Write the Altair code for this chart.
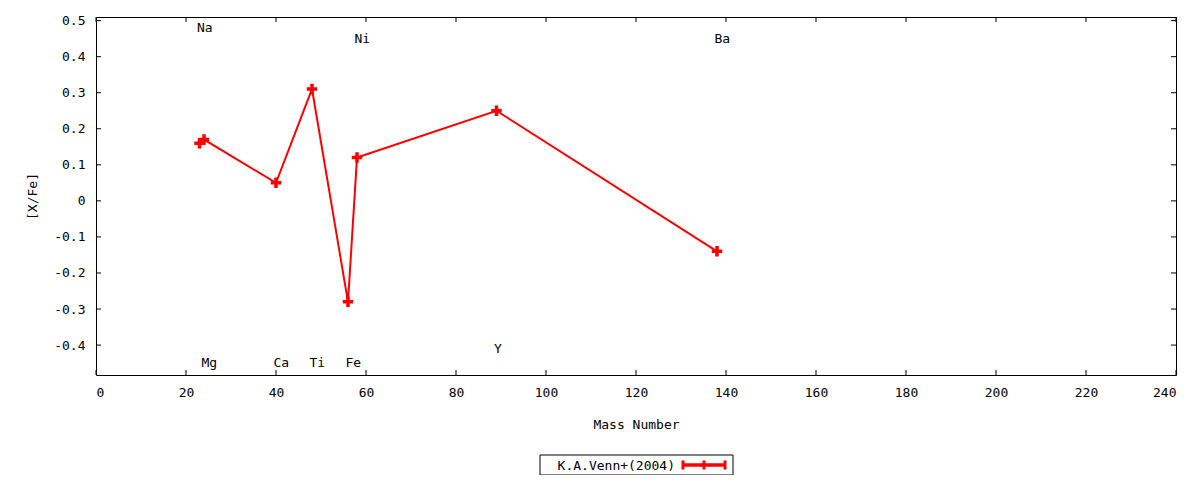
import altair as alt
import pandas as pd

# ---- data ----
elements = ["Na", "Mg", "Ca", "Ti", "Fe", "Ni", "Y", "Ba"]
mass = [23, 24, 40, 48, 56, 58, 89, 138]
xfe = [0.16, 0.17, 0.05, 0.31, -0.28, 0.12, 0.25, -0.14]
label_y = [0.48, -0.45, -0.45, -0.45, -0.45, 0.45, -0.41, 0.45]
x_ticks = [0, 20, 40, 60, 80, 100, 120, 140, 160, 180, 200, 220, 240]
y_ticks = [-0.4, -0.3, -0.2, -0.1, 0, 0.1, 0.2, 0.3, 0.4, 0.5]
legend_label = "K.A.Venn+(2004)"

W, H = 1080, 358
FONT = "DejaVu Sans Mono"
FS = 13
RED = "#ff0000"

df = pd.DataFrame({"element": elements, "mass": mass, "xfe": xfe, "label_y": label_y})
xt = pd.DataFrame({"t": x_ticks})
yt = pd.DataFrame({"t": y_ticks})
one = pd.DataFrame({"k": [0]})

xscale = alt.Scale(domain=[0, 240], nice=False, zero=False)
yscale = alt.Scale(domain=[-0.483, 0.51], nice=False, zero=False)

x_axis = alt.Axis(values=x_ticks, title="Mass Number", labelFont=FONT, labelFontSize=FS,
                  labelPadding=11, titleFont=FONT, titleFontSize=FS, titleFontWeight="normal",
                  titleY=49, titleBaseline="middle", ticks=False, domain=False, grid=False,
                  labelColor="black", titleColor="black", labelExpr="'' + datum.value")
y_axis = alt.Axis(values=y_ticks, title="[X/Fe]", labelFont=FONT, labelFontSize=FS,
                  labelPadding=11, titleFont=FONT, titleFontSize=FS, titleFontWeight="normal",
                  titleX=-64, titleY=H / 2, titleBaseline="middle", titleAlign="center",
                  titleAngle=270, ticks=False, domain=False, grid=False,
                  labelColor="black", titleColor="black", labelExpr="'' + datum.value")


def X(field):
    return alt.X(field, scale=xscale, axis=x_axis, title="Mass Number")


def Y(field):
    return alt.Y(field, scale=yscale, axis=y_axis, title="[X/Fe]")


base = alt.Chart(df)
line = base.mark_line(color=RED, strokeWidth=2).encode(
    x=X("mass:Q"), y=Y("xfe:Q"), order="mass:Q",
)
points = base.mark_point(shape="M-1,0H1M0,-1V1", size=110, filled=False, stroke=RED,
                         strokeWidth=3.5, opacity=1).encode(
    x=X("mass:Q"), y=Y("xfe:Q"),
)
labels = base.mark_text(font=FONT, fontSize=FS, align="left", baseline="middle",
                        dx=-2.5, color="black").encode(
    x=X("mass:Q"), y=Y("label_y:Q"), text="element:N",
)

tick_len = 5
tick_kw = dict(size=tick_len, thickness=1, color="black", opacity=1)
xt_bottom = alt.Chart(xt).mark_tick(orient="vertical", **tick_kw).encode(
    x=X("t:Q"), y=alt.value(H - tick_len / 2))
xt_top = alt.Chart(xt).mark_tick(orient="vertical", **tick_kw).encode(
    x=X("t:Q"), y=alt.value(tick_len / 2))
yt_left = alt.Chart(yt).mark_tick(orient="horizontal", **tick_kw).encode(
    y=Y("t:Q"), x=alt.value(tick_len / 2))
yt_right = alt.Chart(yt).mark_tick(orient="horizontal", **tick_kw).encode(
    y=Y("t:Q"), x=alt.value(W - tick_len / 2))

# ---- legend (gnuplot style: label then sample) ----
leg_box = alt.Chart(one).mark_rect(fill="white", stroke="black", strokeWidth=1).encode(
    x=alt.value(444), x2=alt.value(637), y=alt.value(438), y2=alt.value(458))
leg_text = alt.Chart(one).mark_text(font=FONT, fontSize=FS, align="right", baseline="middle",
                                    color="black").encode(
    x=alt.value(579), y=alt.value(448.5), text=alt.value(legend_label))
leg_line = alt.Chart(one).mark_rule(color=RED, strokeWidth=3.5).encode(
    x=alt.value(586), x2=alt.value(630), y=alt.value(448))
leg_caps = [
    alt.Chart(one).mark_rule(color=RED, strokeWidth=3).encode(
        x=alt.value(cx), y=alt.value(443.5), y2=alt.value(452.5))
    for cx in (587, 608, 629)
]

chart = alt.layer(
    line, points, labels, xt_bottom, xt_top, yt_left, yt_right,
    leg_box, leg_text, leg_line, *leg_caps
).properties(
    width=W, height=H,
    background="white",
    autosize=alt.AutoSizeParams(type="none"),
    padding={"left": 88, "top": 9, "right": 16, "bottom": 100},
).configure_view(
    stroke="black", strokeWidth=1
)

chart.save("out.html", embed_options={"renderer": "svg", "actions": False})
